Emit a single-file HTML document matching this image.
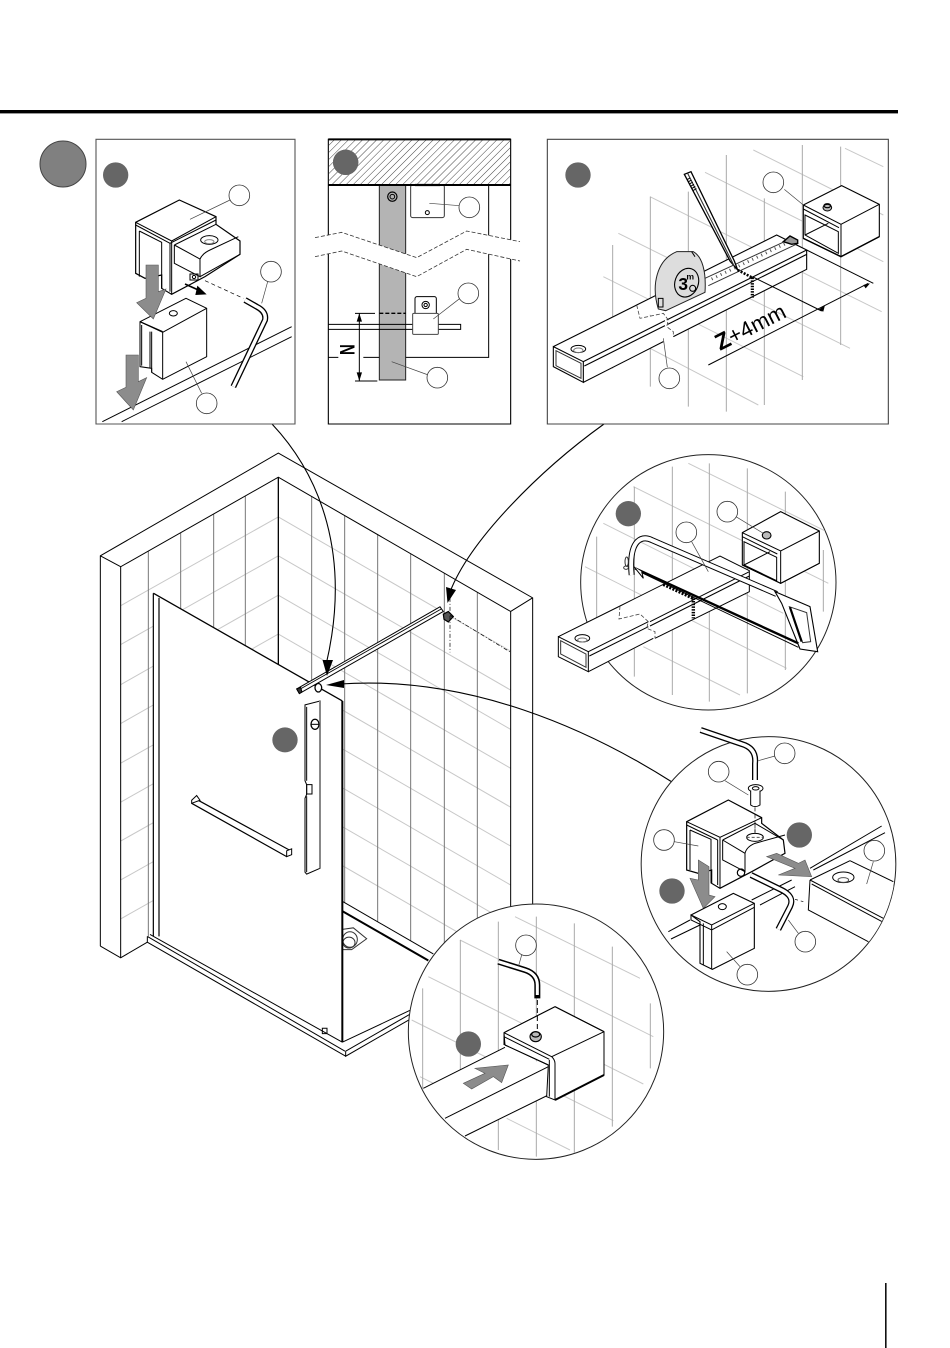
<!DOCTYPE html>
<html><head><meta charset="utf-8"><style>
html,body{margin:0;padding:0;background:#fff;width:950px;height:1348px;overflow:hidden}
svg{display:block;position:absolute;left:0;top:0}
svg *{vector-effect:non-scaling-stroke}
.g{stroke:#c8c8c8}
.v{stroke:#aaa}
.w{fill:#fff}
.a{fill:#8c8c8c;stroke:#555;stroke-width:.6}
.d{fill:#666;stroke:none}
.c{fill:#fff;stroke:#333;stroke-width:.8}
.t{stroke:#444;stroke-width:.7}
</style></head><body>
<svg width="950" height="1348" viewBox="0 0 950 1348" fill="none" stroke="#000" stroke-width="1" font-family="'Liberation Sans',sans-serif">
<defs>
<pattern id="h" width="5" height="5" patternUnits="userSpaceOnUse" patternTransform="rotate(-45)"><line x1="0" y1="0" x2="5" y2="0" stroke="#444" stroke-width="1"/></pattern>
<clipPath id="c3"><circle cx="475" cy="397" r="382"/></clipPath>
<clipPath id="c4"><circle cx="400.5" cy="432" r="381"/></clipPath>
<clipPath id="c5"><circle cx="408" cy="395" r="382"/></clipPath>
<clipPath id="p3"><rect x="7" y="13" width="1023" height="854"/></clipPath>
</defs>
<rect x="0" y="110" width="898" height="3.4" fill="#000" stroke="none"/>
<rect x="885" y="1283" width="1.6" height="65" fill="#111" stroke="none"/>
<circle cx="63" cy="164" r="23" fill="#808080" stroke="#444"/>

<!-- MAIN SHOWER -->
<g transform="translate(90,450) scale(.33333,.38911)">
<g class="g">
<path d="M92 400L565 172M92 500L565 272M92 603L565 373M92 703L565 473M92 805L565 577M92 905L565 677M92 1005L565 777M92 1105L565 877M92 1205L565 977"/>
<path d="M565 172L1262 517M565 272L1262 617M565 373L1262 718M565 473L1262 818M565 573L1262 918M565 673L1262 1018M565 773L1262 1118M565 873L1262 1218M565 973L1262 1318"/>
</g>
<g stroke="#777">
<path d="M175 260V1250M272 212V1000M371 165V1000M466 118V1000"/>
<path d="M665 119V640M764 168V1163M863 217V1212M962 266V1261M1063 316V1311M1162 365V1360"/>
</g>
<path d="M31 1275V272L565 8L1328 380V1300M92 1305V300L565 70L1262 415V1300M31 272L92 300M1328 380L1262 415M31 1275L92 1305L172 1265"/>
<path d="M565 70V560" stroke-width="1.3"/>
<path d="M757 1160L1030 1295"/>
<path d="M757 1185L1015 1312" stroke-width="2"/>
<path d="M757 1232L790 1228L830 1256L785 1284L757 1284" class="w" stroke="#333"/>
<ellipse cx="780" cy="1258" rx="22" ry="20" stroke="#333"/>
<ellipse cx="777" cy="1266" rx="18" ry="14" stroke="#333"/>
<polygon class="w" stroke="none" points="190,368 757,645 757,1520 767,1555 172,1260 172,1250 190,1250"/>
<path d="M190 368L757 645" stroke-width="1.3"/>
<path d="M757 645V1520" stroke-width="2"/>
<path d="M190 368V1250M207 380V1250" stroke-width="1.2"/>
<path d="M180 1245L757 1522M172 1250V1265L767 1558M172 1250L765 1545M767 1545V1558L960 1463M757 1522L960 1440M767 1545L960 1450"/>
<rect x="697" y="1486" width="14" height="14"/>
<!-- bar -->
<polygon class="w" points="620,614 1050,403 1060,415 628,626"/>
<path d="M625 617L1055 408" stroke-width=".9"/>
<polygon points="620,614 632,610 636,622 628,626" fill="#333"/>
<ellipse cx="685" cy="611" rx="10" ry="11" class="w" stroke-width="1.3"/>
<polygon points="1060,422 1075,415 1090,428 1075,442 1062,435" fill="#555" stroke-width="1.2"/>
<path d="M1080 380V520M1080 425L1262 520" stroke-dasharray="4 2 1 2" stroke-width=".7"/>
<!-- handle -->
<polygon class="w" points="645,655 690,645 690,1075 650,1090 645,1085 645,895 650,885 650,860 645,850"/>
<path d="M690 645V1075" stroke="#888" stroke-width="2"/>
<path d="M650 660V850M650 890V1085"/>
<rect x="650" y="860" width="16" height="24"/>
<ellipse cx="675" cy="705" rx="12" ry="13" stroke-width="1.3"/>
<path d="M664 705H686"/>
<!-- towel bar -->
<path d="M305 908L590 1045M320 898L602 1030" stroke-width="1.2"/>
<path d="M305 900L320 888L330 900L305 908ZM590 1030L605 1025V1040L590 1045Z" class="w"/>
<ellipse cx="585" cy="745" rx="38" ry="32" class="d"/>
</g>
<!-- connectors -->
<path d="M272 424C320 475 352 555 326 665" stroke-width="1.1"/>
<polygon points="327,676 322.5,660 333,660" fill="#000" stroke="none"/>
<path d="M604 424C540 470 470 540 450 592" stroke-width="1.1"/>
<polygon points="447.5,603 446,587 456,590" fill="#000" stroke="none"/>
<path d="M672 782C590 730 470 675 340 684" stroke-width="1.1"/>
<polygon points="326,685 344,680 344,688" fill="#000" stroke="none"/>

<!-- PANEL 1 & 2 -->
<g transform="translate(90,135) scale(.33333)">
<rect x="18" y="13" width="597" height="854" class="w" stroke="#555" stroke-width="1.1"/>
<rect x="715" y="13" width="547" height="854" class="w" stroke-width="1.1"/>
<path d="M37 860L605 575M95 860L605 605"/>
<!-- lower block -->
<polygon class="w" points="150,560 288,490 350,520 350,665 218,733 185,712 185,700 150,695"/>
<path d="M150 560L218 592L350 520M218 592V733M155 570V692M180 590V700M185 590V712" />
<path d="M150 560L218 590" stroke-width="1.2"/>
<ellipse cx="250" cy="535" rx="12" ry="8"/>
<!-- upper clamp -->
<polygon class="w" points="137,262 268,195 378,245 378,268 450,318 450,358 345,425 245,478 215,460 215,420 165,430 137,415" stroke-width="1.2"/>
<path d="M137 262L245 318L378 245M245 318V478M137 270L240 325L378 255M148 288V425M148 288L215 322V460M240 325V470" />
<path d="M253 330L378 268M253 330V385L330 425V372L253 330M330 372Q338 355 360 345L445 305M330 425L450 358"/>
<ellipse cx="358" cy="315" rx="26" ry="13"/><ellipse cx="358" cy="320" rx="14" ry="6" stroke="#888"/>
<rect x="300" y="417" width="24" height="18"/><circle cx="312" cy="426" r="5"/>
<polygon class="a" points="168,390 205,390 205,470 228,462 190,552 140,503 168,490"/>
<polygon class="a" points="108,660 145,660 145,740 170,728 130,825 80,770 108,757"/>
<path d="M285 447L325 465" stroke-width="1.6"/>
<polygon points="350,478 322,452 316,480" fill="#000" stroke="none"/>
<path d="M345 437L460 490" stroke-dasharray="4 3" stroke-width=".7"/>
<path d="M465 495L500 515Q530 530 525 555L430 755" stroke="#000" stroke-width="6"/>
<path d="M465 495L500 515Q530 530 525 555L430 755" stroke="#fff" stroke-width="3.4"/>
<circle cx="77" cy="120" r="38" class="d"/>
<path d="M300 253L420 195M515 505L533 440M288 680L335 775" class="t"/>
<circle cx="448" cy="181" r="31" class="c"/><circle cx="543" cy="410" r="31" class="c"/><circle cx="350" cy="805" r="31" class="c"/>

<rect x="868" y="150" width="79" height="585" fill="#b4b4b4" stroke="#222"/>
<path d="M1196 150V667H947M715 667H745M820 667H868"/>
<rect x="962" y="150" width="101" height="98" rx="6" class="w" stroke="#333"/>
<path d="M975 150H1050" stroke-width="2.2"/>
<circle cx="1012" cy="233" r="6"/>
<polygon class="w" stroke="none" points="675,308 755,292 980,368 1130,288 1290,320 1290,378 1130,343 980,425 755,348 675,365"/>
<path d="M675 308L755 292L980 368L1130 288L1290 320M675 365L755 348L980 425L1130 343L1290 378" stroke-dasharray="4 2" stroke-width=".8" stroke="#333"/>
<circle cx="907" cy="185" r="14" stroke-width="1.2"/><circle cx="907" cy="185" r="7"/>
<path d="M715 568H1112V583H715"/>
<rect x="975" y="485" width="64" height="60" rx="6" class="w"/>
<circle cx="1007" cy="510" r="11"/><circle cx="1007" cy="510" r="5"/>
<rect x="968" y="535" width="77" height="63" rx="3" class="w" stroke="#444"/>
<path d="M868 535H947" stroke-width="1.3" stroke-dasharray="4 2"/>
<path d="M795 535H855M795 738H862M808 535V738" />
<polygon points="808,535 800,560 816,560" fill="#000" stroke="none"/><polygon points="808,738 800,712 816,712" fill="#000" stroke="none"/>
<text x="0" y="23" font-size="64" font-weight="bold" text-anchor="middle" fill="#000" stroke="none" font-family="'Liberation Sans',sans-serif" transform="translate(773,644) rotate(90) scale(.7,1)">N</text>
<path d="M1018 205L1110 212M1030 552L1110 490M905 680L1015 720" class="t"/>
<circle cx="767" cy="82" r="38" class="d"/>
<circle cx="1138" cy="217" r="31" class="c"/><circle cx="1135" cy="475" r="31" class="c"/><circle cx="1042" cy="728" r="31" class="c"/>
</g>
<rect x="329" y="140" width="181" height="45" fill="url(#h)" stroke="none"/>
<g transform="translate(90,135) scale(.33333)">
<circle cx="767" cy="82" r="38" class="d"/>
<path d="M715 13H1262M715 150H1262" stroke-width="2"/>
</g>

<!-- PANEL 3 -->
<g transform="translate(545,135) scale(.33333)">
<rect x="7" y="13" width="1023" height="854" class="w" stroke="#444" stroke-width="1.1"/>
<g clip-path="url(#p3)">
<path class="g" d="M175 425L775 725M220 295L915 640M315 185L1010 530M480 112L1015 380M625 45L1015 240M900 40L1015 95M315 640L640 810"/>
<path class="v" d="M203 330V700M316 185V755M430 170V815M544 60V830M658 190V810M772 30V735M887 35V630"/>
</g>
<polygon class="w" points="25,635 275,510 285,550 355,535 370,555 365,575 385,590 385,605 115,742 25,695" stroke="none"/>
<polygon class="w" points="275,510 695,300 785,345 785,403 385,605 365,575" stroke="none"/>
<path d="M25 635L275 510M275 510L695 300L785 345V403L385 605M365 555L785 345M368 568L785 358M115 680L360 557M118 693L360 572M25 635L115 680V742L25 695ZM115 742L355 620" stroke-width="1.1"/>
<path d="M33 647L108 685V730L33 692Z" stroke="#333"/>
<ellipse cx="100" cy="642" rx="22" ry="11"/><ellipse cx="100" cy="646" rx="14" ry="7" stroke="#777"/>
<path d="M275 510L285 550L355 535L370 555L365 575L385 590V605" stroke-dasharray="4 2" stroke="#444" stroke-width=".8"/>
<path d="M480 430L740 310M490 452L760 325" stroke="#333"/>
<path d="M500 432L730 322" stroke="#555" stroke-width="3" stroke-dasharray="1 4"/>
<polygon points="715,320 735,303 758,315 758,325 740,328" stroke-width="1.4" fill="#999"/>
<path d="M340 522C318 450 335 375 395 350L445 350C472 365 484 410 480 472L362 527Z" fill="#ddd" stroke="#222"/>
<path d="M440 350L450 365" />
<ellipse cx="425" cy="443" rx="35" ry="44" transform="rotate(20 425 443)" stroke-width="1.1"/>
<text x="400" y="465" font-size="52" fill="#000" stroke="none" font-weight="bold">3</text>
<text x="424" y="434" font-size="26" fill="#000" stroke="none" font-weight="bold">m</text>
<circle cx="443" cy="460" r="9" stroke-width="1.1"/>
<rect x="340" y="490" width="14" height="26"/>
<polygon class="w" points="418,118 438,110 568,378 578,405 555,378" stroke-width="1.3"/>
<path d="M428 115L567 392" stroke="#333" stroke-width="1.1"/>
<path d="M430 130L450 165" stroke="#000" stroke-width="4" stroke-dasharray="1 1.5"/>
<path d="M578 405L622 428" stroke-width="2.6" stroke-dasharray="2 1.4"/>
<path d="M622 428V488" stroke-width="3.2" stroke-dasharray="1.5 1.2"/>
<path d="M785 345L985 445M622 425L830 528M490 690L970 445"/>
<polygon points="820,525 840,510 835,530" fill="#000" stroke="none"/>
<polygon points="975,445 955,450 962,460" fill="#000" stroke="none"/>
<polygon class="w" points="775,210 890,152 1003,208 1003,305 888,365 775,310" stroke-width="1.1"/>
<path d="M775 210L888 268L1003 208M888 268V365M775 222L882 278M780 240L880 290V355L780 300ZM780 300L850 265M775 310L888 365" />
<path d="M775 310L888 365L1003 305" stroke-width="1.4"/>
<ellipse cx="847" cy="218" rx="13" ry="10" fill="#bbb"/><ellipse cx="847" cy="212" rx="10" ry="6" stroke-width="1.2"/>
<text x="525" y="648" font-size="66" fill="#000" stroke="none" transform="rotate(-27 525 648)"><tspan font-weight="bold" font-size="70">Z</tspan><tspan>+4mm</tspan></text>
<path d="M718 163L775 210M355 610L367 697" class="t"/>
<circle cx="99" cy="120" r="38" class="d"/>
<circle cx="685" cy="142" r="31" class="c"/><circle cx="373" cy="730" r="31" class="c"/>
</g>

<!-- CIRCLE A (saw) -->
<g transform="translate(550,450) scale(.33333)">
<circle cx="475" cy="397" r="383" class="w" stroke="#222" stroke-width="1"/>
<g clip-path="url(#c3)">
<path class="g" d="M415 40L830 245M250 110L835 400M160 220L700 490M105 350L710 655M280 590L570 735"/>
<path class="v" d="M140 260V505M253 110V680M367 50V735M478 40V755M592 55V730M706 125V660M820 300V485"/>
</g>
<polygon class="w" stroke="none" points="25,560 210,468 510,318 598,362 598,425 115,665 25,620"/>
<path d="M25 560L210 468L510 318L598 362V425L315 565M115 605L295 515M300 515L598 365M118 618L295 530M300 528L598 378M115 665L310 565M25 560L115 605V665L25 620Z" stroke-width="1"/>
<path d="M32 572L108 612V652L32 612Z" stroke="#333"/>
<ellipse cx="97" cy="565" rx="22" ry="11"/><ellipse cx="97" cy="570" rx="14" ry="6" stroke="#777"/>
<path d="M210 468L207 507L270 492L295 515L290 535L315 545V565" stroke-dasharray="4 2" stroke="#444" stroke-width=".8"/>
<polygon class="w" points="577,248 692,185 808,243 808,340 692,400 577,345" stroke-width="1.1"/>
<path d="M577 248L692 303L808 243M692 303V400M577 260L682 312M582 275L680 322V392L582 345ZM582 345L660 305M577 345L692 400L808 340" stroke-width="1"/>
<ellipse cx="650" cy="256" rx="13" ry="11" fill="#bbb" stroke-width="1.1"/>
<path d="M245 375Q238 300 262 275Q280 258 305 270L680 432" stroke="#000" stroke-width="6"/>
<path d="M245 375Q238 300 262 275Q280 258 305 270L680 432" stroke="#fff" stroke-width="4"/>
<polygon class="w" points="675,425 780,470 803,605 750,597 695,460" stroke-width="1.1"/>
<path d="M718 470L770 488L782 575L758 578Z" stroke="#333"/>
<path d="M720 472L755 575" stroke-width="2.2"/>
<path d="M255 355L745 580" stroke-width="2.4"/>
<path d="M275 368L745 592" />
<path d="M252 350L280 385L275 365" class="w"/>
<ellipse cx="230" cy="335" rx="5" ry="14" stroke="#333"/><ellipse cx="228" cy="353" rx="7" ry="5" stroke="#333"/>
<path d="M340 403L430 445" stroke-width="3.4" stroke-dasharray="2 1.4"/>
<path d="M430 445V505" stroke-width="3.4" stroke-dasharray="1.5 1.2"/>
<path d="M558 200L640 250M425 275L475 365" class="t"/>
<circle cx="235" cy="191" r="38" class="d"/>
<circle cx="532" cy="185" r="31" class="c"/><circle cx="409" cy="247" r="31" class="c"/>
</g>

<!-- CIRCLE B -->
<g transform="translate(635,720) scale(.33333)">
<circle cx="400.5" cy="432" r="382" class="w" stroke="#222" stroke-width="1"/>
<g clip-path="url(#c4)">
<path d="M100 635L165 600M108 657L195 615M350 540L470 480M375 555L480 500M525 445L740 318M535 450L750 338"/>
<polygon class="w" stroke="none" points="525,480 645,422 775,485 780,660 700,665 520,570"/>
<path d="M645 422L775 485M525 480L645 422M525 480L520 570L700 665M525 480L745 595M530 492L745 607"/>
</g>
<ellipse cx="625" cy="472" rx="32" ry="16"/><ellipse cx="625" cy="480" rx="16" ry="7" stroke="#555"/>
<path d="M695 492L715 425" class="t"/>
<path d="M197 30L320 72Q365 85 360 130V180" stroke="#000" stroke-width="6"/>
<path d="M197 30L320 72Q365 85 360 130V180" stroke="#fff" stroke-width="3.4"/>
<ellipse cx="362" cy="205" rx="22" ry="11" class="w"/><ellipse cx="362" cy="205" rx="10" ry="5"/>
<path d="M347 212V255Q360 265 375 255V212" class="w"/>
<polygon class="w" points="155,305 280,240 380,293 380,310 445,360 450,400 350,455 255,505 230,490 230,450 190,460 155,450" stroke-width="1.2"/>
<path d="M155 305L255 352L380 293M255 352V505M155 315L248 360M165 330V450M165 330L228 358V490M248 360V495"/>
<path d="M263 360L360 310L445 360M263 360V420L330 455V400L263 360M330 400Q335 380 360 370L450 345"/>
<ellipse cx="360" cy="352" rx="25" ry="12"/><path d="M360 315V340M335 352L385 352" stroke="#555" stroke-dasharray="3 2"/>
<path d="M360 262V340" stroke-dasharray="4 3" stroke-width=".7"/>
<circle cx="318" cy="458" r="11" stroke-width="1.2"/>
<polygon class="a" points="190,420 222,440 222,525 240,530 205,565 165,475 190,480"/>
<polygon class="a" points="395,410 425,400 490,430 510,420 530,470 430,465 480,445"/>
<polygon class="w" points="168,585 295,520 358,550 358,685 232,748 195,730 195,605" stroke-width="1.1"/>
<path d="M168 585V600L230 630L358 562M168 585L230 615L358 550M230 615V748M205 610V735"/>
<ellipse cx="262" cy="560" rx="12" ry="9"/>
<path d="M348 465L440 510Q480 530 465 560L430 628" stroke="#000" stroke-width="6"/>
<path d="M348 465L440 510Q480 530 465 560L430 628" stroke="#fff" stroke-width="3.4"/>
<path d="M480 538L505 545" stroke-dasharray="3 3" stroke-width=".7"/>
<path d="M190 378L118 365M270 182L340 225M370 122L420 108M460 600L490 640M275 695L315 740" class="t"/>
<circle cx="493" cy="345" r="38" class="d"/><circle cx="111" cy="513" r="38" class="d"/>
<circle cx="449" cy="100" r="31" class="c"/><circle cx="251" cy="155" r="31" class="c"/><circle cx="87" cy="360" r="31" class="c"/><circle cx="718" cy="392" r="31" class="c"/><circle cx="511" cy="665" r="31" class="c"/><circle cx="337" cy="764" r="31" class="c"/>
</g>

<!-- CIRCLE C -->
<g transform="translate(400,900) scale(.33333)">
<circle cx="408" cy="395" r="383" class="w" stroke="#222" stroke-width="1"/>
<g clip-path="url(#c5)">
<path class="g" d="M345 50L720 235M180 120L760 410M85 230L730 552M35 360L640 662M60 530L140 570M320 655L510 750"/>
<path class="v" d="M68 265V600M181 120V620M295 65V750M409 50V770M523 70V760M637 140V680M751 310V505"/>
</g>
<polygon class="w" stroke="none" points="70,565 315,442 445,500 445,585 195,708 135,655"/>
<path d="M70 565L315 442M135 655L445 500M195 708L445 585"/>
<polygon class="a" points="190,550 255,520 225,505 325,495 305,548 280,530 215,567"/>
<polygon class="w" points="312,398 465,320 612,395 612,525 465,600 440,590 445,495 315,435" stroke-width="1"/>
<path d="M312 398L455 470L612 395M312 410L448 478M455 470Q465 480 465 490V600M448 480V590M315 435L445 495M312 398V435M465 320L312 398" stroke-width="1"/>
<path d="M465 600L612 525" stroke-width="2"/>
<path d="M465 320L612 395" stroke-width="1.1"/>
<ellipse cx="407" cy="410" rx="17" ry="15" fill="#bbb" stroke-width="1.1"/><ellipse cx="407" cy="403" rx="12" ry="8" stroke-width="1.2"/>
<path d="M412 300V395" stroke-dasharray="5 3" stroke-width="1"/>
<path d="M295 185L375 210Q412 222 412 255V295" stroke="#000" stroke-width="6"/>
<path d="M295 185L375 210Q412 222 412 255V285" stroke="#fff" stroke-width="3"/>
<path d="M356 197L365 165" class="t"/>
<circle cx="205" cy="432" r="38" class="d"/>
<circle cx="378" cy="136" r="31" class="c"/>
</g>
</svg>
</body></html>
